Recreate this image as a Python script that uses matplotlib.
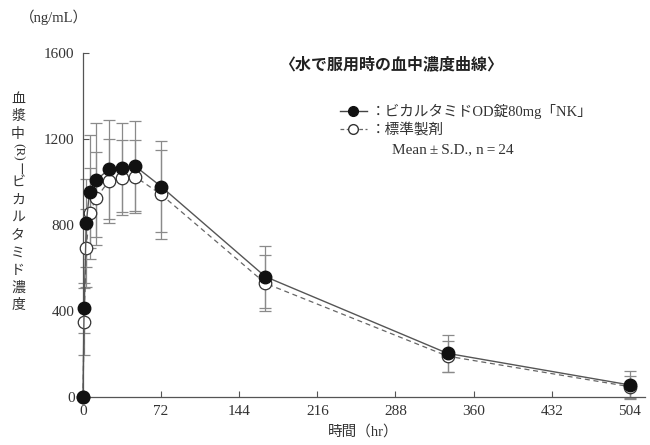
import matplotlib
matplotlib.use("Agg")
import matplotlib.pyplot as plt
from matplotlib.lines import Line2D

# plasma concentration after dosing with water (ng/mL), mean and S.D.
time = [0, 1, 3, 6, 12, 24, 36, 48, 72, 168, 336, 504]
test_mean = [0, 414, 808, 955, 1009, 1059, 1067, 1074, 979, 560, 203, 56]
test_sd = [0, 116, 205, 264, 265, 230, 208, 209, 212, 144, 85, 66]
ref_mean = [0, 350, 693, 854, 924, 1006, 1020, 1025, 942, 529, 190, 48]
ref_sd = [0, 155, 180, 211, 215, 195, 174, 169, 208, 131, 72, 51]

xticks = [0, 72, 144, 216, 288, 360, 432, 504]
yticks = [0, 400, 800, 1200, 1600]

test_label = "：ビカルタミドOD錠80mg「NK」"
ref_label = "：標準製剤"
title = "〈水で服用時の血中濃度曲線〉"
ylabel_parts = ["血", "漿", "中", "(R)", "ー", "ビ", "カ", "ル", "タ", "ミ", "ド", "濃", "度"]

serif_jp = ["Liberation Serif", "Noto Sans CJK JP"]
W, H = 650, 445

fig = plt.figure(figsize=(6.5, 4.45), dpi=100)
ax = fig.add_axes([83 / W, 1 - 397 / H, 562 / W, 344 / H])

# reference first so the test markers sit on top
ax.errorbar(time, ref_mean, yerr=ref_sd, fmt="none", ecolor="#8a8a8a",
            elinewidth=0.9, capsize=4, capthick=0.9, zorder=2, clip_on=False)
ax.errorbar(time, test_mean, yerr=test_sd, fmt="none", ecolor="#8a8a8a",
            elinewidth=0.9, capsize=4, capthick=0.9, zorder=2, clip_on=False)
ax.plot(time, ref_mean, ls=(0, (4, 3)), color="#666666", lw=0.9,
        marker="o", ms=9, mfc="white", mec="#333333", mew=0.9, zorder=3, clip_on=False)
ax.plot(time, test_mean, ls="-", color="#555555", lw=1.0,
        marker="o", ms=9, mfc="#111111", mec="#111111", zorder=4, clip_on=False)

ax.set_xlim(0, 518)
ax.set_ylim(0, 1600)
ax.set_xticks(xticks)
ax.set_yticks(yticks)
for s in ["top", "right"]:
    ax.spines[s].set_visible(False)
for s in ["left", "bottom"]:
    ax.spines[s].set_color("#555555")
    ax.spines[s].set_linewidth(0.9)
ax.tick_params(direction="in", length=4, width=0.8, color="#555555",
               labelcolor="#333333", labelsize=11, pad=6)
for lab in ax.get_xticklabels() + ax.get_yticklabels():
    lab.set_fontfamily("Liberation Serif")

# texts
fig.text(20 / W, 1 - 17 / H, "（ng/mL）", family=serif_jp, fontsize=10.5,
         color="#333333", va="center", ha="left")
fig.text(363 / W, 1 - 432 / H, "時間（hr）", family=serif_jp, fontsize=10.5,
         color="#333333", va="center", ha="center")
fig.text(391 / W, 1 - 64 / H, title, family="Noto Sans CJK JP", fontweight="bold",
         fontsize=11.5, color="#222222", va="center", ha="center")

# vertical y label, one glyph per slot (pixel centres from the top)
slot = {"(R)": 17.5, "ー": 13}
y = 99
for p in ylabel_parts:
    rot = -90 if p in ("(R)", "ー") else 0
    size = 9.5 if p == "(R)" else 10
    fig.text(18 / W, 1 - y / H, p, family=serif_jp, fontsize=size, color="#333333",
             rotation=rot, va="center", ha="center")
    y += slot.get(p, 17.6)

handles = [
    Line2D([0], [0], color="#444444", lw=1, marker="o", ms=7, mfc="#111111", mec="#111111"),
    Line2D([0], [0], color="#666666", lw=0.9, ls=(0, (3, 2)), marker="o", ms=7,
           mfc="white", mec="#333333"),
]
fig.legend(handles, [test_label, ref_label], loc="upper left",
           bbox_to_anchor=(333 / W, 1 - 97 / H), frameon=False, borderpad=0,
           handlelength=1.8, handletextpad=0.3, labelspacing=0.25,
           prop={"family": serif_jp, "size": 10.5}, labelcolor="#333333")
fig.text(392 / W, 1 - 150 / H, "Mean\u2009±\u2009S.D., n\u2009=\u200924", family="Liberation Serif",
         fontsize=11, color="#333333", va="center", ha="left")

fig.savefig("out.png", dpi=100)
